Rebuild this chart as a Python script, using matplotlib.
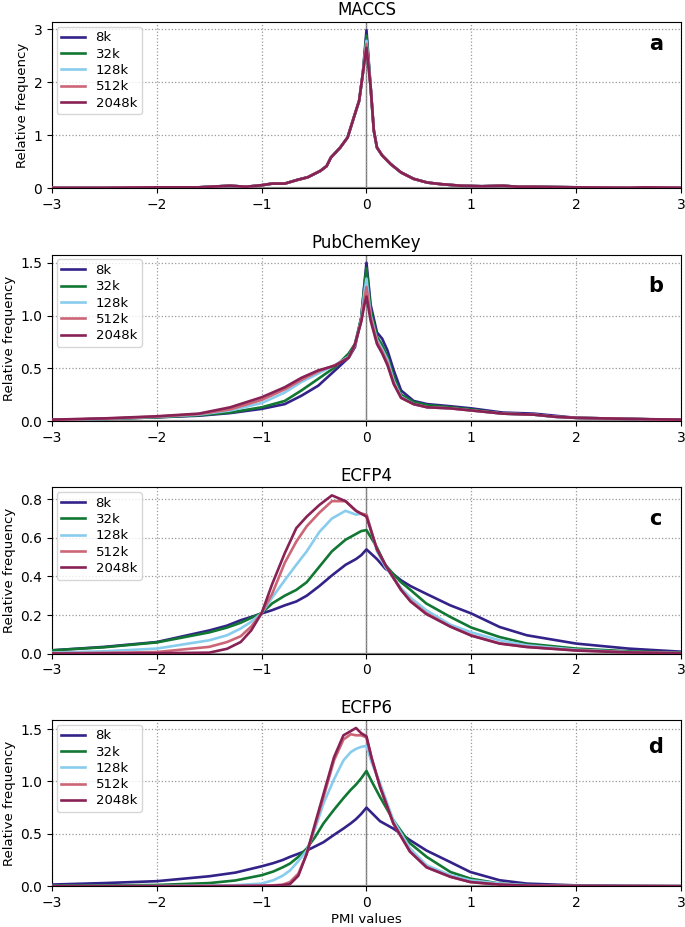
import matplotlib
matplotlib.use("Agg")
import matplotlib.pyplot as plt

# series labels and colours (Tol "muted")
labels = ["8k", "32k", "128k", "512k", "2048k"]
colors = ["#332288", "#117733", "#88CCEE", "#CC6677", "#882255"]

# ---- a: MACCS ----
maccs_x = [-3, -2.5, -2, -1.6, -1.3, -1.15, -1.0, -0.9, -0.78, -0.66, -0.56, -0.44, -0.38,
           -0.34, -0.25, -0.18, -0.12, -0.07, -0.035, 0, 0.04, 0.07, 0.1, 0.15, 0.23, 0.33,
           0.45, 0.58, 0.71, 0.9, 1.1, 1.3, 1.45, 1.6, 2.0, 2.5, 2.65, 3.0]
maccs_base = [0.01, 0.01, 0.02, 0.02, 0.05, 0.03, 0.06, 0.09, 0.09, 0.16, 0.21, 0.33, 0.42,
              0.58, 0.77, 0.96, 1.34, 1.65, 2.16, None, 1.9, 1.09, 0.77, 0.62, 0.46, 0.30,
              0.18, 0.11, 0.08, 0.05, 0.04, 0.05, 0.03, 0.03, 0.02, 0.01, 0.02, 0.01]
maccs_peak = [2.98, 2.88, 2.78, 2.72, 2.65]
maccs_y = [[p if v is None else v for v in maccs_base] for p in maccs_peak]

# ---- b: PubChemKey ----
pub_x = [-3, -2.5, -2, -1.6, -1.3, -1.0, -0.78, -0.62, -0.46, -0.3, -0.17, -0.11, -0.05, -0.02,
         0, 0.04, 0.1, 0.15, 0.2, 0.26, 0.33, 0.45, 0.58, 0.8, 1.0, 1.3, 1.6, 1.8, 2.0, 2.5, 3.0]
pub_8k = [0.01, 0.02, 0.035, 0.05, 0.075, 0.115, 0.16, 0.24, 0.335, 0.48, 0.60, 0.70, 0.98, 1.3,
          1.5, 1.1, 0.84, 0.78, 0.67, 0.48, 0.29, 0.19, 0.16, 0.14, 0.12, 0.08, 0.07, 0.05, 0.03, 0.02, 0.01]
pub_32k = [0.01, 0.02, 0.035, 0.055, 0.08, 0.13, 0.19, 0.29, 0.40, 0.51, 0.64, 0.73, 0.98, 1.28,
           1.45, 1.05, 0.80, 0.72, 0.61, 0.42, 0.25, 0.18, 0.15, 0.13, 0.11, 0.07, 0.06, 0.04, 0.03, 0.02, 0.01]
pub_128k = [0.01, 0.02, 0.04, 0.06, 0.1, 0.17, 0.27, 0.37, 0.45, 0.53, 0.61, 0.72, 0.96, 1.22,
            1.35, 1.0, 0.77, 0.68, 0.58, 0.38, 0.23, 0.16, 0.13, 0.12, 0.10, 0.07, 0.06, 0.04, 0.03, 0.02, 0.01]
pub_512k = [0.012, 0.022, 0.042, 0.065, 0.11, 0.20, 0.30, 0.39, 0.47, 0.53, 0.60, 0.72, 0.95, 1.15,
            1.27, 0.98, 0.75, 0.66, 0.55, 0.36, 0.22, 0.16, 0.13, 0.12, 0.10, 0.07, 0.06, 0.04, 0.03, 0.02, 0.01]
pub_2048k = [0.013, 0.025, 0.045, 0.07, 0.13, 0.225, 0.32, 0.41, 0.48, 0.525, 0.60, 0.73, 0.94, 1.1,
             1.18, 0.95, 0.73, 0.64, 0.53, 0.35, 0.22, 0.16, 0.13, 0.12, 0.10, 0.07, 0.06, 0.04, 0.03, 0.02, 0.013]

# ---- c: ECFP4 ----
e4_x = [-3, -2.5, -2, -1.5, -1.33, -1.2, -1.1, -1.0, -0.9, -0.78, -0.67, -0.57, -0.45, -0.33,
        -0.2, -0.1, -0.05, 0, 0.1, 0.18, 0.26, 0.33, 0.42, 0.57, 0.8, 1.0, 1.27, 1.53, 2.0, 2.5, 3.0]
e4_8k = [0.017, 0.035, 0.06, 0.12, 0.145, 0.173, 0.19, 0.208, 0.225, 0.25, 0.27, 0.30, 0.35, 0.405,
         0.46, 0.49, 0.51, 0.54, 0.49, 0.44, 0.41, 0.38, 0.35, 0.31, 0.25, 0.208, 0.138, 0.095, 0.052, 0.026, 0.01]
e4_32k = [0.017, 0.033, 0.058, 0.11, 0.135, 0.16, 0.185, 0.21, 0.26, 0.30, 0.33, 0.37, 0.45, 0.53,
          0.59, 0.62, 0.635, 0.64, 0.55, 0.46, 0.41, 0.37, 0.33, 0.26, 0.19, 0.135, 0.086, 0.052, 0.026, 0.012, 0.005]
e4_128k = [0.005, 0.012, 0.026, 0.069, 0.095, 0.13, 0.165, 0.21, 0.29, 0.38, 0.46, 0.53, 0.63, 0.70,
           0.74, 0.72, 0.725, 0.72, 0.53, 0.45, 0.39, 0.34, 0.29, 0.225, 0.15, 0.11, 0.069, 0.043, 0.02, 0.008, 0.003]
e4_512k = [0.002, 0.004, 0.008, 0.035, 0.06, 0.09, 0.14, 0.21, 0.31, 0.47, 0.58, 0.66, 0.73, 0.79,
           0.79, 0.74, 0.725, 0.72, 0.54, 0.46, 0.39, 0.33, 0.275, 0.21, 0.14, 0.095, 0.053, 0.035, 0.017, 0.007, 0.002]
e4_2048k = [0.0, 0.001, 0.002, 0.005, 0.025, 0.06, 0.12, 0.21, 0.36, 0.52, 0.65, 0.71, 0.77, 0.82,
            0.79, 0.74, 0.725, 0.71, 0.54, 0.46, 0.39, 0.33, 0.27, 0.205, 0.14, 0.093, 0.052, 0.034, 0.016, 0.006, 0.002]

# ---- d: ECFP6 ----
e6_x = [-3, -2.5, -2, -1.5, -1.25, -1.0, -0.89, -0.8, -0.73, -0.65, -0.57, -0.49, -0.41, -0.31,
        -0.22, -0.15, -0.1, -0.05, 0, 0.05, 0.13, 0.256, 0.415, 0.574, 0.8, 0.99, 1.27, 1.53, 2.0, 2.5, 3.0]
e6_8k = [0.016, 0.03, 0.048, 0.095, 0.13, 0.19, 0.22, 0.25, 0.28, 0.31, 0.34, 0.38, 0.42, 0.49,
         0.55, 0.60, 0.64, 0.69, 0.75, 0.70, 0.62, 0.55, 0.44, 0.34, 0.23, 0.136, 0.057, 0.025, 0.008, 0.003, 0.001]
e6_32k = [0.005, 0.007, 0.012, 0.03, 0.055, 0.105, 0.14, 0.18, 0.216, 0.28, 0.36, 0.47, 0.60, 0.73,
          0.84, 0.92, 0.97, 1.03, 1.10, 1.0, 0.85, 0.63, 0.41, 0.28, 0.136, 0.073, 0.025, 0.01, 0.003, 0.001, 0.0]
e6_128k = [0.0, 0.001, 0.002, 0.005, 0.01, 0.025, 0.057, 0.1, 0.15, 0.24, 0.34, 0.55, 0.79, 1.02,
           1.2, 1.28, 1.31, 1.33, 1.34, 1.18, 0.98, 0.63, 0.36, 0.2, 0.105, 0.057, 0.025, 0.01, 0.003, 0.001, 0.0]
e6_512k = [0.0, 0.0, 0.001, 0.002, 0.003, 0.005, 0.008, 0.015, 0.04, 0.12, 0.31, 0.58, 0.85, 1.2,
           1.40, 1.45, 1.44, 1.44, 1.42, 1.22, 0.95, 0.6, 0.33, 0.18, 0.09, 0.04, 0.015, 0.006, 0.002, 0.001, 0.0]
e6_2048k = [0.0, 0.0, 0.0, 0.001, 0.002, 0.003, 0.005, 0.01, 0.02, 0.1, 0.31, 0.6, 0.88, 1.23,
            1.44, 1.48, 1.51, 1.46, 1.43, 1.22, 0.945, 0.6, 0.33, 0.18, 0.09, 0.04, 0.015, 0.006, 0.002, 0.001, 0.0]

titles = ["MACCS", "PubChemKey", "ECFP4", "ECFP6"]
letters = ["a", "b", "c", "d"]
panels = [
    (maccs_x, maccs_y),
    (pub_x, [pub_8k, pub_32k, pub_128k, pub_512k, pub_2048k]),
    (e4_x, [e4_8k, e4_32k, e4_128k, e4_512k, e4_2048k]),
    (e6_x, [e6_8k, e6_32k, e6_128k, e6_512k, e6_2048k]),
]
letter_y = [0.87, 0.81, 0.81, 0.84]

fig, axes = plt.subplots(4, 1, figsize=(6.85, 9.27), dpi=100)
fig.subplots_adjust(left=0.076, right=0.994, bottom=0.044, top=0.976, hspace=0.4)

for ax, (x, ys), title, letter, ly in zip(axes, panels, titles, letters, letter_y):
    ax.grid(True, linestyle=":", color="#999999", linewidth=0.9)
    ax.axvline(0, color="#777777", linewidth=1.0, zorder=1)
    ax.axhline(0, color="#888888", linewidth=1.6, zorder=1)
    for y, label, c in zip(ys, labels, colors):
        ax.plot(x, y, color=c, linewidth=1.9, label=label, zorder=3)
    top = max(max(y) for y in ys)
    ax.set_xlim(-3, 3)
    ax.set_ylim(0, top * 1.05)
    ax.set_title(title, fontsize=12, pad=5)
    ax.set_ylabel("Relative frequency", fontsize=9.5, labelpad=3)
    ax.tick_params(labelsize=10)
    ax.text(0.96, ly, letter, transform=ax.transAxes, fontsize=15, fontweight="bold",
            ha="center", va="center")
    ax.legend(loc="upper left", fontsize=9.5, handlelength=1.8, labelspacing=0.25,
              edgecolor="#cccccc", borderaxespad=0.35, borderpad=0.35)

axes[0].set_yticks([0, 1, 2, 3])
axes[3].set_xlabel("PMI values", fontsize=9.5, labelpad=2)

fig.savefig("out.png", dpi=100)
